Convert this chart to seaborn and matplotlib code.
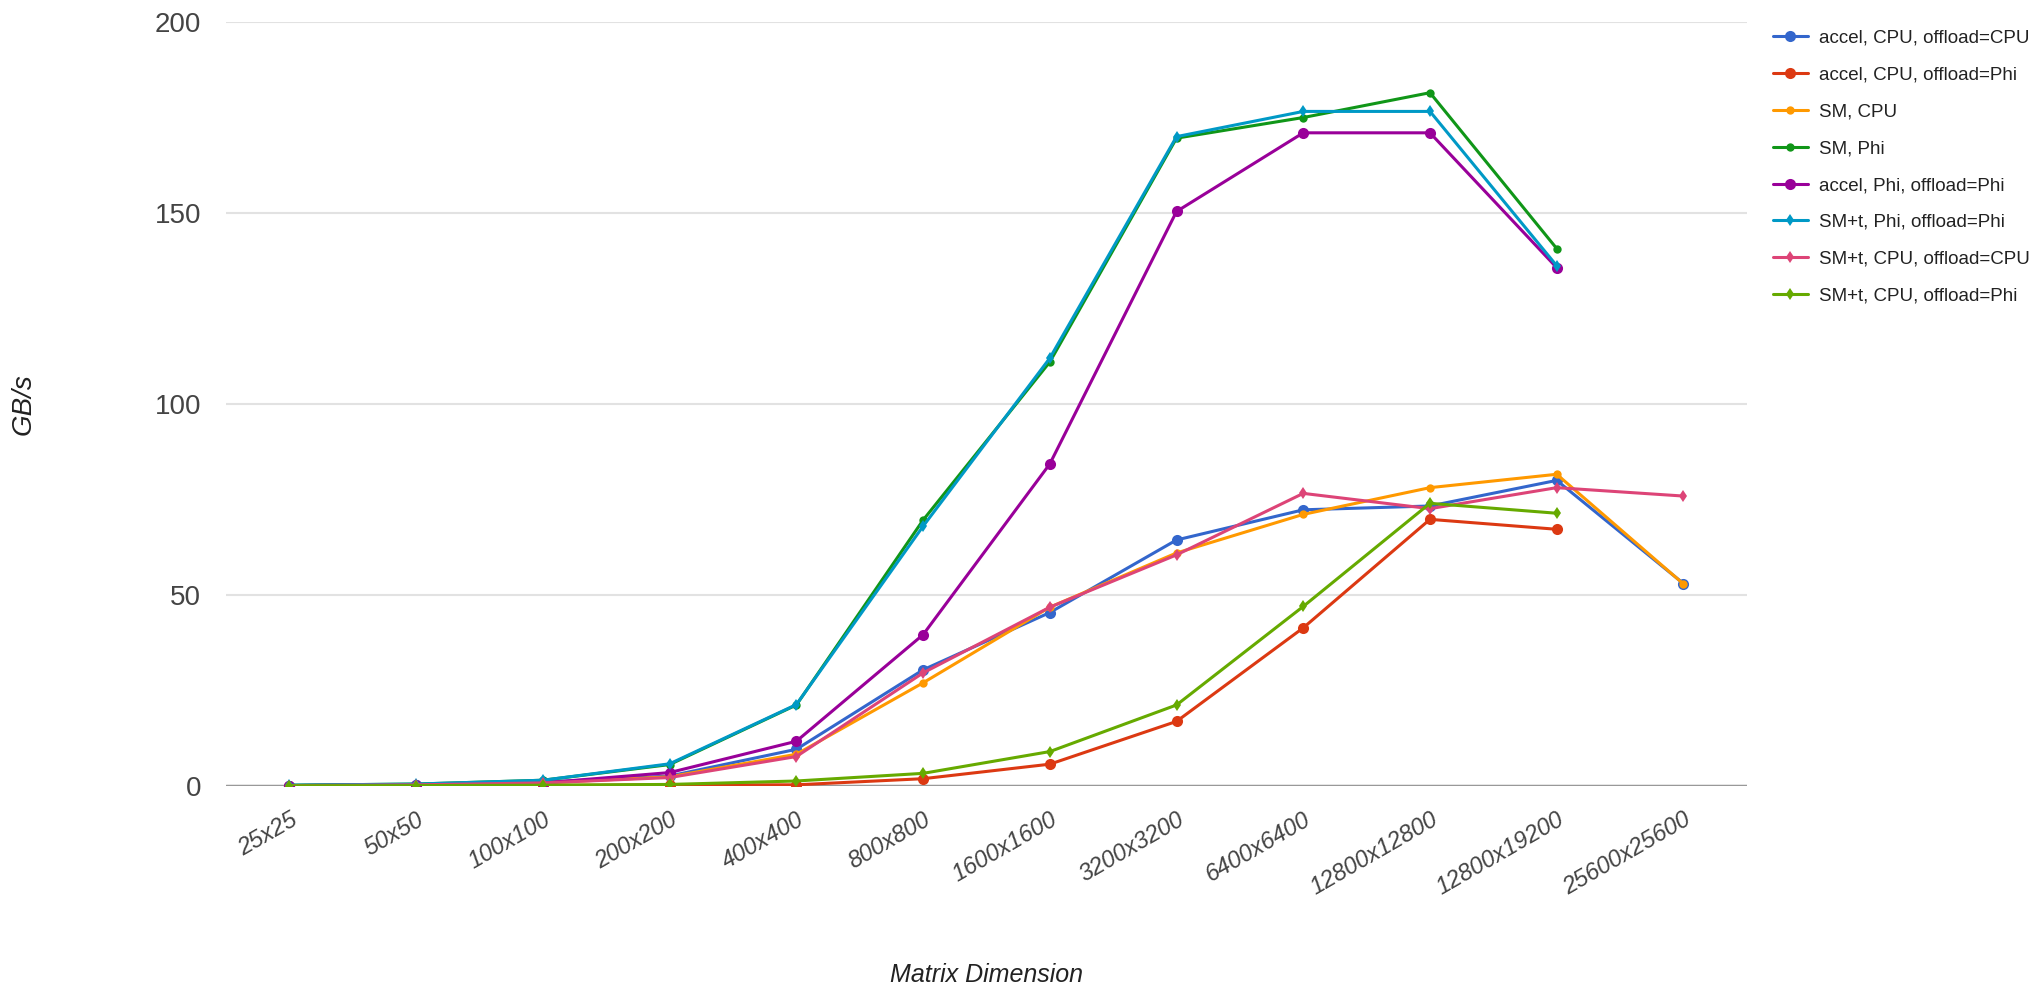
import matplotlib
matplotlib.use('Agg')
import matplotlib.pyplot as plt
import seaborn as sns
import pandas as pd
import numpy as np

# 矩阵尺寸
dims = ['25x25', '50x50', '100x100', '200x200', '400x400', '800x800', '1600x1600',
        '3200x3200', '6400x6400', '12800x12800', '12800x19200', '25600x25600']

# 各配置的带宽 (GB/s)，None 表示无数据
accel_cpu_cpu = [0.1, 0.3, 1.0, 2.6, 9.6, 30.4, 45.4, 64.4, 72.3, 73.3, 80.0, 53.0]
accel_cpu_phi = [0.05, 0.1, 0.15, 0.3, 0.3, 1.9, 5.7, 16.9, 41.4, 69.8, 67.2, None]
sm_cpu = [0.1, 0.3, 0.8, 2.4, 8.3, 27.0, 46.8, 61.0, 71.1, 78.1, 81.6, 52.9]
sm_phi = [0.2, 0.5, 1.5, 5.6, 21.2, 69.6, 111.0, 169.6, 175.0, 181.5, 140.7, None]
accel_phi_phi = [0.1, 0.3, 0.8, 3.5, 11.7, 39.6, 84.3, 150.4, 171.0, 171.0, 135.7, None]
smt_phi_phi = [0.2, 0.5, 1.5, 5.8, 21.3, 68.0, 112.0, 170.0, 176.6, 176.6, 136.2, None]
smt_cpu_cpu = [0.1, 0.3, 0.8, 2.2, 7.7, 29.6, 46.8, 60.5, 76.6, 72.6, 78.1, 75.9]
smt_cpu_phi = [0.05, 0.1, 0.2, 0.4, 1.3, 3.3, 9.0, 21.2, 47.0, 74.0, 71.4, None]

series = [
    ('accel, CPU, offload=CPU', accel_cpu_cpu, '#3366CC', 'o', 8),
    ('accel, CPU, offload=Phi', accel_cpu_phi, '#DC3912', 'o', 8),
    ('SM, CPU', sm_cpu, '#FF9900', 'o', 6),
    ('SM, Phi', sm_phi, '#109618', 'o', 6),
    ('accel, Phi, offload=Phi', accel_phi_phi, '#990099', 'o', 8),
    ('SM+t, Phi, offload=Phi', smt_phi_phi, '#0099C6', 'd', 6),
    ('SM+t, CPU, offload=CPU', smt_cpu_cpu, '#DD4477', 'd', 6),
    ('SM+t, CPU, offload=Phi', smt_cpu_phi, '#66AA00', 'd', 6),
]

sns.set_style('white')
plt.rcParams['font.family'] = ['Liberation Sans', 'DejaVu Sans']

fig = plt.figure(figsize=(20.44, 9.93), dpi=100)
ax = fig.add_axes([0.1106, 0.2085, 0.744, 0.7693])

for name, vals, color, mk, ms in series:
    d = pd.DataFrame({'x': np.arange(len(dims)), 'y': vals}).dropna()
    sns.lineplot(data=d, x='x', y='y', ax=ax, color=color, linewidth=2.2,
                 marker=mk, markersize=ms, markeredgewidth=0, label=name,
                 estimator=None, errorbar=None)

ax.set_xlim(-0.5, len(dims) - 0.5)
ax.set_ylim(0, 200)
ax.set_yticks([0, 50, 100, 150, 200])
ax.set_xticks(np.arange(len(dims)))
ax.set_xticklabels(dims, rotation=30, ha='right', rotation_mode='anchor',
                   fontsize=17, style='italic', color='#444444')
ax.tick_params(axis='y', labelsize=20, labelcolor='#444444', length=0, pad=18)
ax.tick_params(axis='x', length=0, pad=16)
ax.grid(axis='y', color='#e2e2e2', linewidth=1.5)
ax.axhline(0, color='#999999', linewidth=2.5, zorder=1)
for s in ax.spines.values():
    s.set_visible(False)

ax.set_xlabel('Matrix Dimension', fontsize=18, style='italic', color='#222222')
ax.set_ylabel('GB/s', fontsize=20, style='italic', color='#222222')
ax.xaxis.set_label_coords(0.5, -0.232)
ax.yaxis.set_label_coords(-0.1243, 0.5)

ax.legend(loc='upper left', bbox_to_anchor=(0.859, 0.987), bbox_transform=fig.transFigure,
          frameon=False, fontsize=13.5, handlelength=1.9, handletextpad=0.55,
          labelspacing=1.05, labelcolor='#222222')

plt.savefig('out.png', dpi=100, facecolor='white')
